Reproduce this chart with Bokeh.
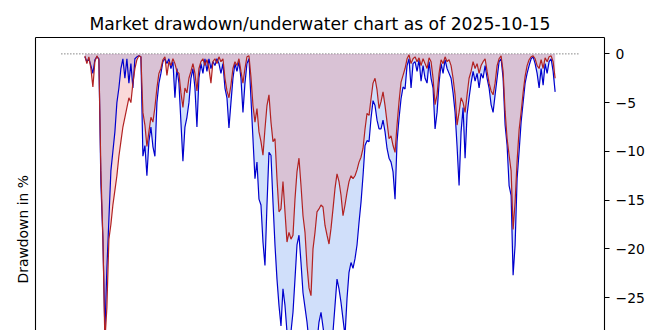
import numpy as np
from bokeh.plotting import figure
from bokeh.models import Range1d, LinearAxis, FixedTicker, Title
from bokeh.embed import file_html
from bokeh.resources import INLINE

TITLE = "Market drawdown/underwater chart as of 2025-10-15"
Y_LABEL = "Drawdown in %"
tick_values = [0, -5, -10, -15, -20, -25]
tick_labels = ["0", "\u22125", "\u221210", "\u221215", "\u221220", "\u221225"]

# drawdown in % (blue series: deeper, red series: shallower), one value per sample
blue_dd = [
    -0.3, -0.8, -0.5, -1.2, -2.0, -0.6, -0.3, -0.5,
    -13.3, -19.0, -28.5, -22.0, -17.0, -12.0, -10.0, -8.0, -5.0, -3.5, -1.5, -0.5,
    -2.5, -0.5, -3.0, -1.0, -3.5, -0.5, -0.3, -0.2, -0.3,
    -10.5, -9.4, -12.5, -9.0, -7.5, -9.5, -10.5, -5.0, -3.0, -2.0, -0.8,
    -0.5, -1.0, -0.5, -1.5, -0.8, -4.5, -1.5, -3.0, -7.0, -11.0,
    -7.5, -6.5, -5.0, -2.5, -1.5, -3.5, -7.5, -2.5, -1.0, -2.0,
    -0.5, -1.8, -0.5, -1.5, -0.8, -1.2, -0.5, -1.0, -2.0, -1.0,
    -3.5, -4.5, -7.6, -5.0, -2.5, -1.0, -1.8, -0.8, -2.5, -6.0,
    -3.0, -1.0, -0.5,
    -4.6, -8.7, -12.8, -11.1, -14.9, -15.5, -19.3, -21.7, -15.5, -10.1,
    -10.4, -15.2, -19.6, -23.1, -25.8, -27.9, -24.1, -25.8, -28.5, -29.2,
    -28.5, -26.5, -23.1, -19.6, -18.6, -21.4, -24.5, -26.0, -27.5, -29.5,
    -30.5, -29.5, -28.5, -29.5, -27.5, -26.5, -28.0, -29.5, -30.5, -29.5,
    -30.0, -28.5, -25.8, -23.1, -24.1, -25.5, -27.2, -28.9, -25.1, -22.4,
    -21.4, -22.0, -21.0, -19.6, -17.3, -15.2, -12.5, -9.4, -8.9, -9.0,
    -6.6, -4.8, -5.3, -6.8, -7.7, -7.7, -6.8, -8.0, -9.7, -10.7,
    -11.1, -12.1, -14.9, -9.0, -6.6, -4.6, -3.4, -3.6, -1.2, -0.5,
    -3.5, -1.0, -0.8, -1.8, -0.6, -2.8, -1.2, -2.5, -3.0, -0.8,
    -2.5, -3.5, -7.7, -6.0, -3.0, -1.0, -2.0, -0.6, -1.5, -2.0,
    -2.5, -4.0, -6.0, -9.5, -13.5, -8.0, -5.5, -10.7, -6.2, -4.5,
    -3.0, -1.8, -2.8, -2.0, -3.5, -2.0, -2.5, -1.2, -2.5, -3.5,
    -5.2, -6.0, -4.2, -2.5, -0.8, -0.5, -2.5, -7.3, -9.4, -13.5,
    -14.5, -22.7, -19.6, -12.8, -10.0, -7.0, -5.0, -3.0, -2.0, -1.2,
    -0.5, -0.3, -1.0, -2.0, -3.5, -1.5, -3.2, -1.0, -2.0, -0.8,
    -0.5, -1.8, -3.9,
]
red_dd = [
    -0.2, -1.0, -0.3, -1.5, -3.4, -0.8, -0.2, -0.6,
    -12.0, -18.8, -29.5, -26.0, -19.0, -17.5, -15.5, -14.0, -12.5, -10.5, -9.0, -7.5,
    -6.5, -5.5, -4.5, -5.0, -3.0, -1.5, -0.6, -0.2, -0.3,
    -6.0, -7.3, -9.5, -8.0, -6.5, -7.0, -5.5, -3.5, -2.0, -1.5, -0.6,
    -0.3, -2.2, -0.8, -1.2, -0.5, -1.0, -1.8, -2.0, -4.0, -5.5,
    -3.5, -4.0, -2.5, -1.8, -1.0, -2.0, -3.8, -1.5, -0.8, -0.5,
    -1.2, -0.6, -1.5, -3.0, -0.8, -0.5, -1.0, -0.3, -0.8, -0.5,
    -2.5, -3.8, -4.5, -3.2, -1.5, -0.8, -1.2, -0.5, -1.8, -3.0,
    -1.5, -0.3, -0.2,
    -2.4, -5.3, -7.0, -5.6, -8.0, -9.0, -10.4, -7.7, -5.3, -4.2,
    -7.0, -9.0, -8.7, -12.8, -16.2, -15.9, -13.1, -16.2, -19.3, -18.3,
    -19.0, -18.6, -14.9, -12.1, -10.7, -13.5, -16.6, -18.3, -21.7, -24.0,
    -24.8, -20.0, -18.3, -16.2, -15.9, -15.5, -15.7, -17.6, -18.6, -19.5,
    -17.9, -15.9, -13.8, -12.3, -13.1, -14.5, -16.6, -15.5, -14.2, -13.1,
    -12.5, -12.8, -12.5, -11.9, -11.1, -10.6, -9.7, -7.7, -6.1, -6.3,
    -4.6, -3.0, -2.5, -3.7, -5.6, -4.9, -3.9, -5.3, -7.0, -8.7,
    -8.4, -9.4, -10.1, -7.3, -4.9, -2.9, -2.2, -1.5, -0.5, -0.1,
    -1.0, -0.5, -0.3, -0.8, -0.4, -1.2, -0.5, -1.0, -1.5, -0.4,
    -0.8, -2.5, -5.2, -4.2, -2.0, -0.6, -1.0, -0.3, -0.8, -0.6,
    -1.2, -2.5, -4.2, -7.3, -6.0, -4.5, -5.0, -6.0, -4.2, -2.5,
    -1.8, -0.8, -1.5, -1.0, -2.0, -1.2, -0.8, -0.5, -1.8, -3.0,
    -3.8, -4.2, -3.0, -1.2, -0.5, -0.2, -1.8, -5.9, -8.7, -10.4,
    -12.0, -18.0, -15.2, -11.0, -7.8, -6.0, -4.0, -2.3, -1.2, -0.6,
    -0.3, -0.2, -0.5, -1.2, -1.5, -0.6, -1.5, -0.4, -0.8, -0.3,
    -0.2, -0.8, -2.5,
]
assert len(blue_dd) == len(red_dd)

n = len(blue_dd)
x = np.arange(n)
span = n - 1
ref_lo, ref_hi = -0.05 * span, span + 0.05 * span
pad = 0.05 * (ref_hi - ref_lo)
x_range = Range1d(ref_lo - pad, ref_hi + pad)
y_range = Range1d(-28.37, 1.68)

W, H = 660, 330
LEFT, RIGHT, TOP = 35, 56, 37

p = figure(
    width=W, height=H, x_range=x_range, y_range=y_range,
    output_backend="svg", toolbar_location=None,
    x_axis_location=None, y_axis_location="right",
    min_border_left=LEFT, min_border_right=RIGHT,
    min_border_top=TOP, min_border_bottom=0,
    background_fill_color="white", border_fill_color="white",
)
p.outline_line_color = None
p.grid.visible = False

p.title.text = TITLE
p.title.align = "center"
p.title.text_font = "DejaVu Sans"
p.title.text_font_size = "17.2px"
p.title.text_font_style = "normal"
p.title.text_color = "black"
p.title.standoff = 7

ax = p.yaxis[0]
ax.ticker = FixedTicker(ticks=tick_values)
ax.major_label_overrides = {v: s for v, s in zip(tick_values, tick_labels)}
ax.major_tick_out = 5
ax.major_tick_in = 0
ax.minor_tick_line_color = None
ax.major_label_standoff = 6
ax.major_label_text_font = "DejaVu Sans"
ax.major_label_text_font_size = "13.9px"
ax.major_label_text_color = "black"
ax.axis_line_color = "black"
ax.axis_line_width = 1.1
ax.major_tick_line_width = 1.1
ax.major_tick_line_color = "black"

for loc in ("left", "above"):
    spine = LinearAxis(
        ticker=FixedTicker(ticks=[]), major_tick_out=0, major_tick_in=0,
        minor_tick_out=0, minor_tick_in=0, major_label_standoff=0,
        axis_line_color="black", axis_line_width=1.1,
    )
    p.add_layout(spine, loc)

# y-axis label placed on the left side, shifted down like the reference
ylab = Title(
    text=Y_LABEL, align="left", offset=47, standoff=9,
    text_font="DejaVu Sans", text_font_size="13.9px",
    text_font_style="normal", text_color="black",
)
p.add_layout(ylab, "left")

# zero reference line
p.line([ref_lo, ref_hi], [0, 0], line_color="#333333", line_width=0.9, line_dash="1 2")

p.varea(x=x, y1=blue_dd, y2=0, fill_color="#6495ed", fill_alpha=0.3)
p.varea(x=x, y1=red_dd, y2=0, fill_color="#f08080", fill_alpha=0.3)
p.line(x, blue_dd, line_color="#0000cd", line_width=1.2)
p.line(x, red_dd, line_color="#b22222", line_width=1.2)

open("out.html", "w").write(file_html(p, INLINE))
